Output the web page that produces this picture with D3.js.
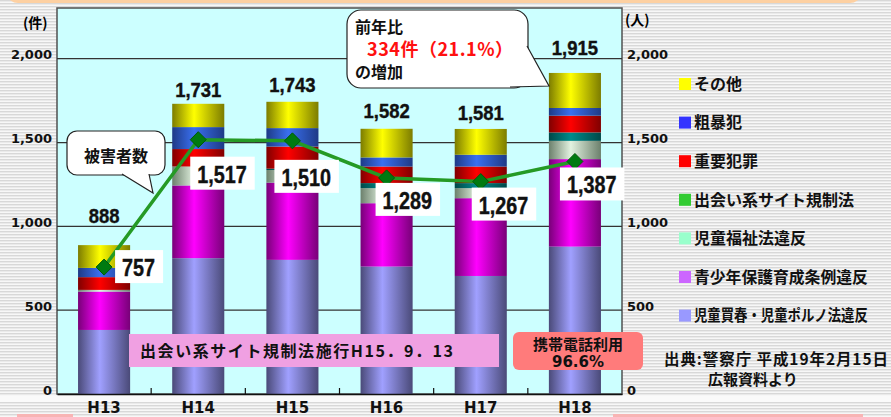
<!DOCTYPE html>
<html>
<head>
<meta charset="utf-8">
<script src="https://cdn.jsdelivr.net/npm/d3@7"></script>
<style>
body{margin:0;background:#fff;}
svg{display:block;}
</style>
</head>
<body>
<div id="chart-area"></div>
<script>
var years=["H13","H14","H15","H16","H17","H18"];
var seriesKeys=["kaishun","seishonen","fukushi","deai","juyo","sobo","sonota"];
var seriesNames=["児童買春・児童ポルノ法違反","青少年保護育成条例違反","児童福祉法違反","出会い系サイト規制法","重要犯罪","粗暴犯","その他"];
var kaishun=[382,810,800,760,704,879];
var seishonen=[229,434,461,378,464,522];
var fukushi=[10,113,75,90,60,109];
var deai=[0,0,8,30,30,50];
var juyo=[76,104,132,99,99,100];
var sobo=[55,131,110,54,70,46];
var sonota=[136,139,157,171,154,209];
var totals=[888,1731,1743,1582,1581,1915];
var victims=[757,1517,1510,1289,1267,1387];
var yTicks=[0,500,1000,1500,2000];
var yTickLabels=["0","500","1,000","1,500","2,000"];

var width=891,height=417;
var plot={left:57,right:622,top:8,bottom:394};
var jp="'Noto Sans CJK JP','Noto Sans',sans-serif";
var num="'Liberation Sans',Arial,sans-serif";
var axisFont="'DejaVu Sans',Verdana,sans-serif";

var colors={
    kaishun:{bright:"#a0a0ff",dark:"#4a4a78",legend:"#9999ff"},
    seishonen:{bright:"#ff00ff",dark:"#780078",legend:"#cc66ff"},
    fukushi:{bright:"#e2f2e0",dark:"#6c806c",legend:"#99ffcc"},
    deai:{bright:"#008c8c",dark:"#004848",legend:"#33cc33"},
    juyo:{bright:"#ff0000",dark:"#800000",legend:"#ff0000"},
    sobo:{bright:"#3a70f0",dark:"#1e3a86",legend:"#3333ff"},
    sonota:{bright:"#ffff00",dark:"#7c7c00",legend:"#ffff00"}
};

var table=years.map(function(y,i){
    return {year:y,kaishun:kaishun[i],seishonen:seishonen[i],fukushi:fukushi[i],
        deai:deai[i],juyo:juyo[i],sobo:sobo[i],sonota:sonota[i]};
});

var svg=d3.select("#chart-area").append("svg")
    .attr("width",width)
    .attr("height",height);
var defs=svg.append("defs");

// striped page background
var pat=defs.append("pattern").attr("id","stripes")
    .attr("width",4).attr("height",3).attr("patternUnits","userSpaceOnUse");
pat.append("rect").attr("width",4).attr("height",3).attr("fill","#f7f7f7");
pat.append("rect").attr("width",4).attr("height",1.4).attr("fill","#d8d8d8");
svg.append("rect").attr("width",width).attr("height",height).attr("fill","url(#stripes)");
svg.append("rect").attr("x",8).attr("y",-12).attr("width",852).attr("height",15)
    .attr("rx",10).attr("fill","#fdd0a2");
svg.append("rect").attr("x",0).attr("y",396).attr("width",width).attr("height",6).attr("fill","#fafafa");
svg.append("rect").attr("x",17).attr("y",414).attr("width",56).attr("height",3).attr("fill","#f8b4b4");
svg.append("rect").attr("x",613).attr("y",414).attr("width",250).attr("height",3).attr("fill","#f8b4b4");

seriesKeys.forEach(function(k){
    var g=defs.append("linearGradient").attr("id","grad-"+k)
        .attr("x1","0").attr("x2","1").attr("y1","0").attr("y2","0");
    g.append("stop").attr("offset","0%").attr("stop-color",colors[k].dark);
    g.append("stop").attr("offset","42%").attr("stop-color",colors[k].bright);
    g.append("stop").attr("offset","100%").attr("stop-color",colors[k].dark);
});

var x=d3.scaleBand()
    .domain(years)
    .range([plot.left,plot.right])
    .paddingInner(0.447)
    .paddingOuter(0.2235);
var y=d3.scaleLinear()
    .domain([0,2000])
    .range([plot.bottom,58.7]);

// plot area
svg.append("rect")
    .attr("x",plot.left).attr("y",plot.top)
    .attr("width",plot.right-plot.left).attr("height",plot.bottom-plot.top)
    .attr("fill","#ccffff")
    .attr("stroke","#505050")
    .attr("stroke-width",1.5);

svg.append("g").selectAll("line")
    .data(yTicks.slice(1))
    .enter().append("line")
    .attr("x1",plot.left).attr("x2",plot.right)
    .attr("y1",function(d){return y(d);})
    .attr("y2",function(d){return y(d);})
    .attr("stroke","#333")
    .attr("stroke-width",1.2);

var stack=d3.stack().keys(seriesKeys);
var layers=stack(table);

svg.append("g").selectAll("g")
    .data(layers)
    .enter().append("g")
    .attr("fill",function(d){return "url(#grad-"+d.key+")";})
    .selectAll("rect")
    .data(function(d){return d;})
    .enter().append("rect")
    .attr("x",function(d){return x(d.data.year);})
    .attr("y",function(d){return y(d[1]);})
    .attr("width",x.bandwidth())
    .attr("height",function(d){return y(d[0])-y(d[1]);});

// x axis
var xAxis=d3.axisBottom(x).tickSize(0).tickPadding(8);
var xg=svg.append("g")
    .attr("transform","translate(0,"+plot.bottom+")")
    .call(xAxis);
xg.select(".domain").attr("stroke","#111").attr("stroke-width",1.6);
xg.selectAll("text")
    .attr("font-family",axisFont)
    .attr("font-weight","bold")
    .attr("font-size","15px")
    .attr("fill","#111");
svg.append("g").selectAll("line")
    .data(years.slice(1))
    .enter().append("line")
    .attr("x1",function(d){return x(d)-x.step()*x.paddingInner()/2;})
    .attr("x2",function(d){return x(d)-x.step()*x.paddingInner()/2;})
    .attr("y1",plot.bottom-6).attr("y2",plot.bottom)
    .attr("stroke","#111").attr("stroke-width",1.2);

// y axes labels
var leftLabels=svg.append("g");
leftLabels.selectAll("text")
    .data(yTicks)
    .enter().append("text")
    .attr("x",52)
    .attr("y",function(d){return y(d)-4;})
    .attr("dy","0.35em")
    .attr("text-anchor","end")
    .attr("font-family",axisFont)
    .attr("font-weight","bold")
    .attr("font-size","13px")
    .attr("fill","#111")
    .text(function(d,i){return yTickLabels[i];});
var rightLabels=svg.append("g");
rightLabels.selectAll("text")
    .data(yTicks)
    .enter().append("text")
    .attr("x",627)
    .attr("y",function(d){return y(d)-4;})
    .attr("dy","0.35em")
    .attr("font-family",axisFont)
    .attr("font-weight","bold")
    .attr("font-size","13px")
    .attr("fill","#111")
    .text(function(d,i){return yTickLabels[i];});
svg.append("text").attr("x",23).attr("y",28)
    .attr("font-family",jp).attr("font-weight","bold").attr("font-size","14px")
    .text("(件)");
svg.append("text").attr("x",625).attr("y",25)
    .attr("font-family",jp).attr("font-weight","bold").attr("font-size","14px")
    .text("(人)");

// victims line
var cx=function(i){return x(years[i])+x.bandwidth()/2;};
var line=d3.line()
    .x(function(d,i){return cx(i);})
    .y(function(d){return y(d);});
svg.append("path")
    .datum(victims)
    .attr("d",line)
    .attr("fill","none")
    .attr("stroke","#259a25")
    .attr("stroke-width",3.5);
svg.append("g").selectAll("path")
    .data(victims)
    .enter().append("path")
    .attr("transform",function(d,i){return "translate("+cx(i)+","+y(d)+")";})
    .attr("d","M0,-8L8,0L0,8L-8,0Z")
    .attr("fill","#007a10")
    .attr("stroke","#005a08")
    .attr("stroke-width",1);

// total labels above bars
var totalLift=[22,7,10,11,9,18];
svg.append("g").selectAll("g")
    .data(totals)
    .enter().append("g")
    .attr("transform",function(d,i){return "translate("+cx(i)+","+(y(d)-totalLift[i])+")";})
    .append("text")
    .attr("transform","scale(0.88,1)")
    .attr("text-anchor","middle")
    .attr("font-family",num)
    .attr("font-weight","bold")
    .attr("font-size","21px")
    .attr("fill","#111")
    .attr("stroke","#111")
    .attr("stroke-width",0.4)
    .text(function(d){return d3.format(",")(d);});

// victim value boxes
var boxShift=[[11,-17],[-8,17],[-18,19],[-11,5],[-9,6],[-15,6]];
victims.forEach(function(v,i){
    var g=svg.append("g")
        .attr("transform","translate("+(cx(i)+boxShift[i][0])+","+(y(v)+boxShift[i][1])+")");
    var r=g.append("rect").attr("fill","#fff").attr("height",33);
    var t=g.append("text")
        .attr("transform","translate(7,26) scale(0.86,1)")
        .attr("font-family",num)
        .attr("font-weight","bold")
        .attr("font-size","23px")
        .attr("fill","#111")
        .attr("stroke","#111")
        .attr("stroke-width",0.4)
        .text(d3.format(",")(v));
    r.attr("width",t.node().getComputedTextLength()*0.86+15);
});

// callout: 被害者数
svg.append("rect").attr("x",67).attr("y",131).attr("width",98).attr("height",44)
    .attr("rx",10).attr("fill","#fff").attr("stroke","#222").attr("stroke-width",1.2);
svg.append("path").attr("d","M122,174L153,193L149,174")
    .attr("fill","#fff").attr("stroke","#222").attr("stroke-width",1.2);
svg.append("text").attr("x",116).attr("y",162).attr("text-anchor","middle")
    .attr("font-family",jp).attr("font-weight","bold").attr("font-size","16px")
    .attr("fill","#111").text("被害者数");

// callout: 前年比
svg.append("rect").attr("x",347).attr("y",10).attr("width",181).attr("height",78)
    .attr("rx",14).attr("fill","#fff").attr("stroke","#222").attr("stroke-width",1.2);
svg.append("path").attr("d","M527,46L549,86L510,87")
    .attr("fill","#fff").attr("stroke","#222").attr("stroke-width",1.2);
svg.append("text").attr("x",355).attr("y",33)
    .attr("font-family",jp).attr("font-weight","bold").attr("font-size","16px")
    .attr("fill","#111").text("前年比");
svg.append("text").attr("x",367).attr("y",56)
    .attr("font-family",jp).attr("font-weight","bold").attr("font-size","18px")
    .attr("textLength",146).attr("lengthAdjust","spacing")
    .attr("fill","#ff1010").text("334件（21.1%）");
svg.append("text").attr("x",355).attr("y",78)
    .attr("font-family",jp).attr("font-weight","bold").attr("font-size","16px")
    .attr("fill","#111").text("の増加");

// law enforcement banner
svg.append("rect").attr("x",129).attr("y",334).attr("width",370).attr("height",33)
    .attr("fill","#f0a0e2");
svg.append("text").attr("x",140).attr("y",357)
    .attr("font-family",jp).attr("font-weight","bold").attr("font-size","16px")
    .attr("textLength",313).attr("lengthAdjust","spacing")
    .attr("fill","#111").text("出会い系サイト規制法施行H15．9．13");

// mobile phone box
svg.append("rect").attr("x",513).attr("y",332).attr("width",130).attr("height",38)
    .attr("rx",6).attr("fill","#ff7b7b");
svg.append("text").attr("x",578).attr("y",350).attr("text-anchor","middle")
    .attr("font-family",jp).attr("font-weight","bold").attr("font-size","15px")
    .attr("fill","#111").text("携帯電話利用");
svg.append("text").attr("x",578).attr("y",367).attr("text-anchor","middle")
    .attr("font-family",axisFont).attr("font-weight","bold").attr("font-size","15px")
    .attr("fill","#111").text("96.6%");

// legend
var legend=svg.append("g").selectAll("g")
    .data(seriesKeys.slice().reverse())
    .enter().append("g")
    .attr("transform",function(d,i){return "translate(679,"+(84+i*38.6)+")";});
legend.append("rect")
    .attr("y",-6).attr("width",12).attr("height",12)
    .attr("fill",function(d){return colors[d].legend;});
legend.append("text")
    .attr("x",15).attr("dy","0.36em")
    .attr("font-family",jp).attr("font-weight","bold").attr("font-size","16px")
    .attr("fill","#111")
    .text(function(d){return seriesNames[seriesKeys.indexOf(d)];})
    .each(function(){
        var len=this.getComputedTextLength();
        if(len>176){
            var s=174/len;
            d3.select(this).attr("x",15/s).attr("transform","scale("+s+",1)");
        }
    });

// source
svg.append("text").attr("x",664).attr("y",365)
    .attr("font-family",jp).attr("font-weight","bold").attr("font-size","15.5px")
    .attr("textLength",224).attr("lengthAdjust","spacing")
    .attr("fill","#111").text("出典:警察庁 平成19年2月15日");
svg.append("text").attr("x",708).attr("y",385)
    .attr("font-family",jp).attr("font-weight","bold").attr("font-size","15px")
    .attr("fill","#111").text("広報資料より");
</script>
</body>
</html>
